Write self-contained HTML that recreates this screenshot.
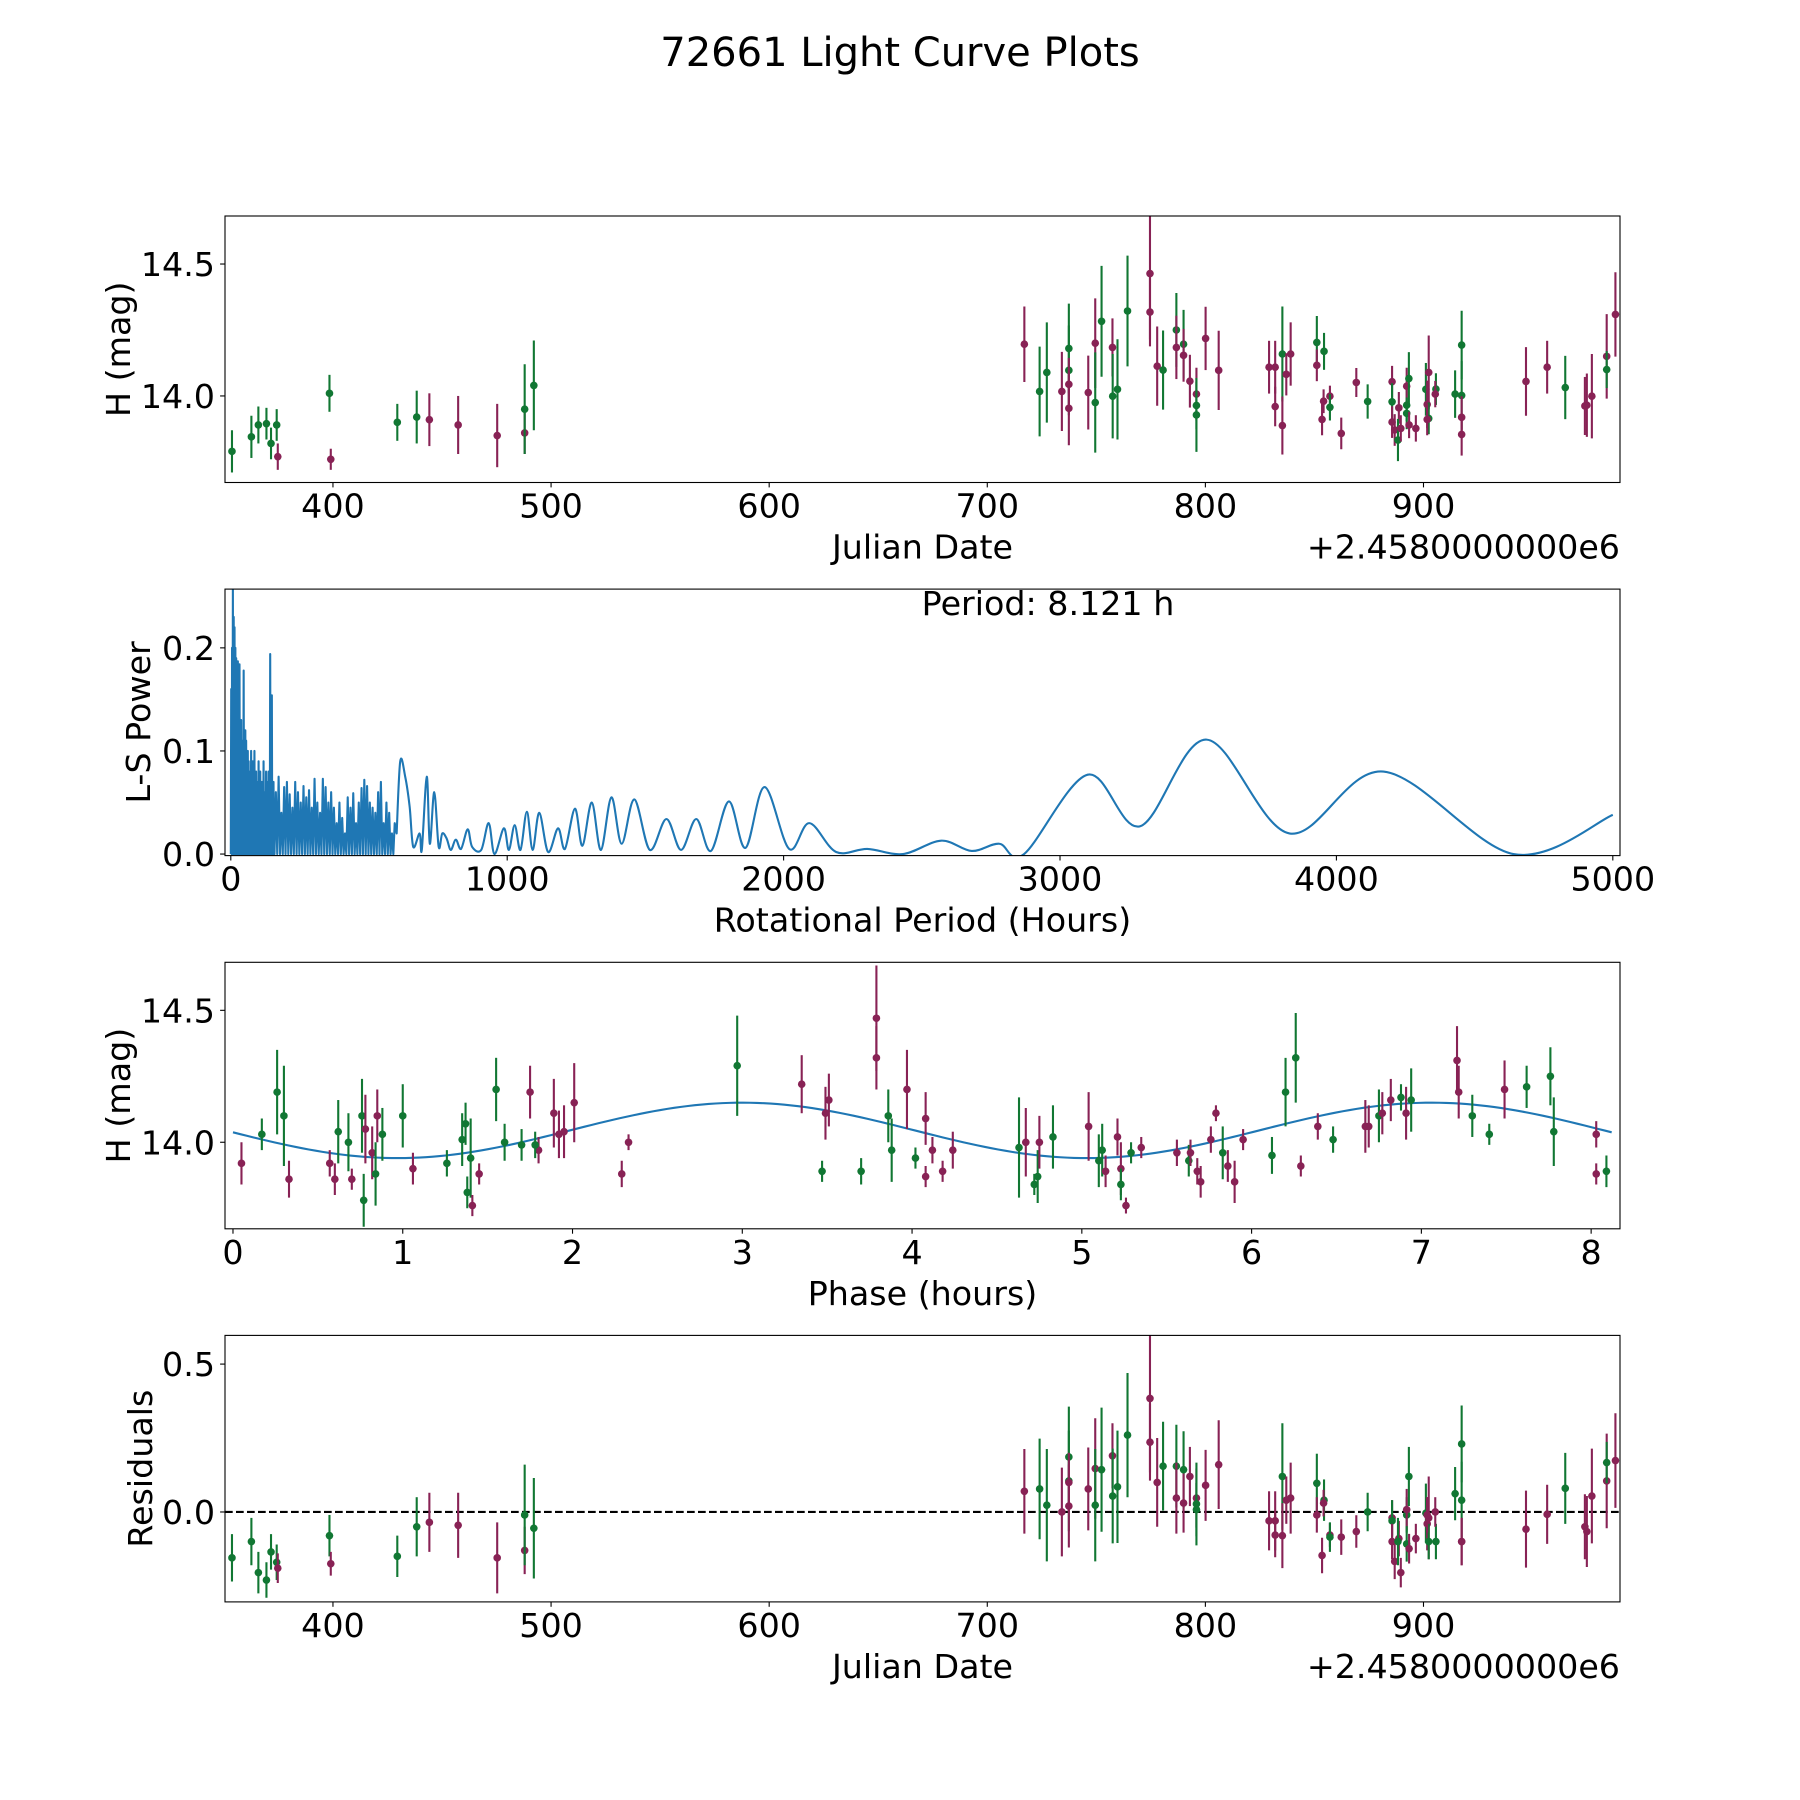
<!DOCTYPE html>
<html><head><meta charset="utf-8"><style>
html,body{margin:0;padding:0;background:#fff}
svg{display:block}
text{font-family:"DejaVu Sans","Liberation Sans",sans-serif;fill:#000}
</style></head><body>
<svg id="fig" width="1800" height="1800" viewBox="0 0 1800 1800" xmlns="http://www.w3.org/2000/svg">
<rect width="1800" height="1800" fill="#fff"/>
<text x="900" y="66" font-size="40" text-anchor="middle">72661 Light Curve Plots</text>
</svg>
<script>
// ---------- Panel 1 data: light curve ----------
const lcDates=[353.7,362.6,365.8,369.5,371.6,374.2,374.7,398.4,399,429.5,438.4,444.2,457.4,475.3,487.9,487.9,492.1,
717.0,724.0,727.3,734.2,737.4,737.4,737.4,737.4,746.3,749.5,749.5,752.4,757.4,757.5,759.7,764.3,774.6,774.6,777.9,780.6,786.7,786.7,790.0,790.0,792.9,795.9,795.9,795.9,800.1,806.1,
829.2,832.0,832.0,835.3,835.3,837.1,839.1,851.1,851.1,854.4,853.5,854.2,857.1,857.1,862.3,869.2,874.4,885.6,885.6,885.6,886.8,888.7,888.3,889.6,892.3,892.3,893.3,892.3,893.4,896.5,
901.1,901.7,902.4,902.4,901.7,905.7,905.4,914.5,917.5,917.5,917.5,917.5,947.0,956.7,965.0,974.0,974.9,977.2,984.0,984.0,988.0];
const lcMags=[13.79,13.845,13.89,13.895,13.82,13.89,13.77,14.01,13.76,13.90,13.92,13.91,13.89,13.85,13.86,13.95,14.04,
14.196,14.017,14.089,14.017,14.18,14.097,14.044,13.953,14.013,14.2,13.975,14.283,14.184,13.999,14.025,14.322,14.464,14.318,14.113,14.098,14.25,14.184,14.196,14.154,14.056,14.007,13.964,13.928,14.218,14.097,
14.109,14.109,13.96,14.159,13.888,14.082,14.159,14.203,14.116,14.169,13.911,13.98,13.999,13.957,13.858,14.051,13.979,14.054,13.978,13.901,13.871,13.955,13.833,13.877,13.965,14.037,14.066,13.934,13.89,13.877,
14.025,13.968,14.089,13.915,13.911,14.026,14.007,14.007,14.193,14.002,13.919,13.854,14.055,14.109,14.032,13.962,13.965,13.999,14.15,14.1,14.309];
const lcErrs=[0.08,0.08,0.07,0.06,0.06,0.06,0.05,0.07,0.04,0.07,0.1,0.1,0.11,0.12,0.08,0.17,0.17,
0.143,0.17,0.19,0.15,0.17,0.17,0.1,0.14,0.14,0.17,0.19,0.21,0.11,0.16,0.19,0.21,0.25,0.13,0.15,0.15,0.14,0.12,0.13,0.1,0.1,0.1,0.09,0.14,0.12,0.15,
0.1,0.1,0.075,0.18,0.11,0.08,0.12,0.1,0.06,0.07,0.06,0.045,0.04,0.05,0.06,0.055,0.065,0.06,0.07,0.06,0.06,0.06,0.08,0.05,0.06,0.07,0.1,0.06,0.05,0.05,
0.1,0.09,0.14,0.06,0.06,0.06,0.05,0.09,0.13,0.13,0.08,0.08,0.13,0.1,0.12,0.11,0.12,0.16,0.16,0.07,0.16];
const lcColors=["g","g","g","g","g","g","m","g","m","g","g","m","m","m","m","g","g",
"m","g","g","m","g","g","m","m","m","m","g","g","m","g","g","g","m","m","m","g","g","m","g","m","m","m","g","g","m","m",
"m","m","m","g","m","m","m","g","m","g","m","m","m","g","m","m","g","m","g","m","m","m","g","m","g","m","g","g","m","m",
"g","m","m","g","m","g","m","g","g","g","m","m","m","m","g","m","m","m","m","g","m"];
// ---------- Panel 4 data: residuals (same order as light curve) ----------
const residuals=[-0.155,-0.10,-0.205,-0.23,-0.135,-0.17,-0.19,-0.08,-0.175,-0.15,-0.05,-0.035,-0.045,-0.155,-0.13,-0.01,-0.055,
0.07,0.078,0.023,0.0,0.186,0.105,0.10,0.02,0.078,0.147,0.023,0.143,0.19,0.054,0.085,0.26,0.384,0.236,0.10,0.155,0.155,0.047,0.143,0.03,0.12,0.047,0.008,0.027,0.09,0.16,
-0.03,-0.03,-0.078,0.12,-0.08,0.04,0.047,0.097,-0.01,0.04,-0.147,0.03,-0.078,-0.085,-0.085,-0.066,0.0,-0.02,-0.03,-0.1,-0.167,-0.09,-0.1,-0.205,-0.01,0.008,0.12,-0.108,-0.124,-0.09,
-0.004,-0.04,-0.02,-0.1,-0.01,-0.1,0.0,0.062,0.23,0.04,-0.1,-0.1,-0.058,-0.008,0.08,-0.05,-0.066,0.054,0.105,0.167,0.174];
// ---------- Panel 3 data: phased light curve ----------
const phases=[0.05,0.17,0.26,0.30,0.33,0.57,0.60,0.62,0.68,0.70,0.76,0.77,0.78,0.82,0.84,0.85,0.88,1.00,1.06,1.26,1.35,1.37,1.38,1.40,1.41,1.45,1.55,1.60,1.75,1.70,1.80,1.78,1.89,1.92,1.95,2.01,2.29,2.33,2.97,3.35,3.47,3.49,3.51,3.70,3.79,3.79,3.86,3.88,3.97,4.02,4.08,4.08,4.12,4.18,4.24,4.63,4.67,4.72,4.74,4.75,4.83,5.04,5.10,5.12,5.14,5.21,5.23,5.23,5.26,5.29,5.35,5.56,5.63,5.64,5.68,5.70,5.76,5.79,5.83,5.86,5.90,5.95,6.12,6.20,6.26,6.29,6.39,6.48,6.67,6.69,6.75,6.77,6.82,6.88,6.91,6.94,7.21,7.22,7.30,7.40,7.49,7.62,7.76,7.78,8.03,8.03,8.09];
const phaseMags=[13.92,14.03,14.19,14.10,13.86,13.92,13.86,14.04,14.00,13.86,14.10,13.78,14.05,13.96,13.88,14.10,14.03,14.10,13.90,13.92,14.01,14.07,13.81,13.94,13.76,13.88,14.20,14.00,14.19,13.99,13.97,13.99,14.11,14.03,14.04,14.15,13.88,14.00,14.29,14.22,13.89,14.11,14.16,13.89,14.47,14.32,14.10,13.97,14.20,13.94,14.09,13.87,13.97,13.89,13.97,13.98,14.00,13.84,13.87,14.00,14.02,14.06,13.93,13.97,13.89,14.02,13.90,13.84,13.76,13.96,13.98,13.96,13.93,13.96,13.89,13.85,14.01,14.11,13.96,13.91,13.85,14.01,13.95,14.19,14.32,13.91,14.06,14.01,14.06,14.06,14.10,14.11,14.16,14.17,14.11,14.16,14.31,14.19,14.10,14.03,14.20,14.21,14.25,14.04,14.03,13.88,13.89];
const phaseErrs=[0.08,0.06,0.16,0.19,0.07,0.05,0.06,0.12,0.11,0.04,0.14,0.1,0.13,0.1,0.12,0.1,0.1,0.12,0.06,0.05,0.1,0.08,0.06,0.15,0.04,0.04,0.12,0.07,0.1,0.06,0.05,0.05,0.13,0.09,0.1,0.15,0.05,0.03,0.19,0.11,0.04,0.1,0.1,0.05,0.2,0.12,0.1,0.12,0.15,0.04,0.1,0.04,0.05,0.04,0.07,0.19,0.13,0.04,0.1,0.1,0.12,0.13,0.1,0.1,0.06,0.07,0.1,0.06,0.03,0.04,0.04,0.05,0.06,0.05,0.05,0.06,0.05,0.03,0.1,0.06,0.08,0.04,0.07,0.13,0.17,0.04,0.05,0.05,0.1,0.08,0.1,0.08,0.08,0.05,0.1,0.12,0.13,0.1,0.08,0.04,0.11,0.08,0.11,0.13,0.05,0.04,0.06];
const phaseColors=["m","g","g","g","m","m","m","g","g","m","g","g","m","m","g","m","g","g","m","g","g","g","g","g","m","m","g","g","m","g","m","g","m","m","m","m","m","m","g","m","g","m","m","g","m","m","g","g","m","g","m","m","m","m","m","g","m","g","g","m","g","m","g","g","m","m","m","g","m","g","m","m","g","m","m","m","m","m","g","m","m","m","g","g","g","m","m","g","m","m","g","m","m","g","m","g","m","m","g","g","m","g","g","g","m","m","g"];
const modelMean=14.045, modelAmp=0.105, modelPeakPhase=3.0, rotPeriod=8.121;
// ---------- Panel 2 data: periodogram ----------
const denseStart1=1.5, denseStep1=3;
const densePeaks1=[0.16,0.2,0.257,0.23,0.22,0.2,0.19,0.15,0.187,0.12,0.184,0.1,0.13,0.09,0.11,0.178,0.08,0.12,0.11,0.07,0.1,0.09,0.06,0.08,0.1,0.05,0.09,0.07,0.1,0.06,0.08,0.05,0.07,0.09,0.05,0.08,0.06,0.07,0.04,0.09,0.06,0.05,0.08,0.07,0.06,0.08,0.07,0.194,0.09,0.154,0.06,0.07,0.05];
const denseStart2=163, denseStep2=10;
const densePeaks2=[0.06,0.075,0.04,0.065,0.07,0.058,0.045,0.07,0.06,0.05,0.066,0.055,0.062,0.045,0.073,0.05,0.04,0.073,0.065,0.05,0.06,0.045,0.03,0.05,0.035,0.02,0.055,0.045,0.059,0.03,0.05,0.064,0.072,0.066,0.05,0.045,0.04,0.06,0.07,0.03,0.05,0.04,0.02,0.03];
const smoothPeriods=[600,613,631,647,660,683,691,709,720,736,752,765,781,796,814,833,857,873,906,933,954,988,1006,1027,1048,1071,1092,1116,1148,1184,1209,1245,1272,1306,1339,1377,1414,1460,1516,1576,1629,1684,1737,1802,1862,1931,2020,2093,2190,2303,2432,2570,2680,2780,2870,3100,3290,3530,3830,4170,4640,5000];
const smoothPowers=[0.02,0.09,0.075,0.046,0.007,0.02,0.004,0.075,0.01,0.06,0.007,0.02,0.015,0.004,0.014,0.005,0.024,0.007,0.004,0.03,0.0,0.025,0.004,0.028,0.004,0.041,0.004,0.04,0.002,0.025,0.005,0.044,0.008,0.05,0.004,0.055,0.01,0.053,0.004,0.034,0.004,0.034,0.003,0.051,0.006,0.065,0.005,0.03,0.002,0.005,0.0,0.013,0.003,0.01,0.0,0.077,0.027,0.111,0.02,0.08,0.0,0.038];

const NS="http://www.w3.org/2000/svg";
const fig=document.getElementById('fig');
const COL={m:"#882255",g:"#117733"};
const L=225,R=1620,H=266.5,FS=33.3;
function el(tag,attrs,parent){const e=document.createElementNS(NS,tag);for(const k in attrs)e.setAttribute(k,attrs[k]);(parent||fig).appendChild(e);return e;}
function makePanel(name,top,xmin,xmax,ymin,ymax){
  const g=el('g',{});
  
  
  const cid='clip-'+name;
  const cp=el('clipPath',{id:cid},g);el('rect',{x:L,y:top,width:R-L,height:H},cp);
  const plot=el('g',{'clip-path':'url(#'+cid+')'},g);
  
  
  return {g,plot,top,bottom:top+H,sx:v=>L+(v-xmin)/(xmax-xmin)*(R-L),sy:v=>top+H-(v-ymin)/(ymax-ymin)*H};
}
function frameAndTicks(p,xt,xl,yt,yl,xlabel,ylabel,ylabX,offset){
  const fr=el('rect',{x:L,y:p.top,width:R-L,height:H,fill:'none',stroke:'#000','stroke-width':1.1},p.g);
  
  
  xt.forEach((v,i)=>{const x=p.sx(v);
    el('line',{x1:x,x2:x,y1:p.bottom,y2:p.bottom+4.9,stroke:'#000','stroke-width':1.1},p.g);
    const t=el('text',{x:x,y:p.bottom+35,'font-size':FS,'text-anchor':'middle'},p.g);t.textContent=xl[i];
    
    });
  yt.forEach((v,i)=>{const y=p.sy(v);
    el('line',{x1:L-4.9,x2:L,y1:y,y2:y,stroke:'#000','stroke-width':1.1},p.g);
    const t=el('text',{x:L-10,y:y+12,'font-size':FS,'text-anchor':'end'},p.g);t.textContent=yl[i];
    
    });
  const xlab=el('text',{x:(L+R)/2,y:p.bottom+76,'font-size':FS,'text-anchor':'middle'},p.g);xlab.textContent=xlabel;
  
  
  const ylab=el('text',{x:0,y:0,'font-size':FS,'text-anchor':'middle',transform:'translate('+ylabX+','+(p.top+H/2)+') rotate(-90)'},p.g);ylab.textContent=ylabel;
  
  
  if(offset){const o=el('text',{x:R,y:p.bottom+76,'font-size':FS,'text-anchor':'end'},p.g);o.textContent=offset;
    
    }
}
function errPoints(p,xs,ys,es,cs){
  for(let i=0;i<xs.length;i++){
    const c=COL[cs[i]]||COL.m,x=p.sx(xs[i]),e=es[i]===undefined?0.1:es[i];
    const ln=el('line',{x1:x,x2:x,y1:p.sy(ys[i]-e),y2:p.sy(ys[i]+e),stroke:c,'stroke-width':2.1},p.plot);
    
    
    const d=el('circle',{cx:x,cy:p.sy(ys[i]),r:3.8,fill:c},p.plot);
    
    
  }
}
const tops=[216,589.1,962.3,1335.4];
// Panel 1
const p1=makePanel('light-curve-panel',tops[0],350.5,990.1,13.672,14.682);
frameAndTicks(p1,[400,500,600,700,800,900],['400','500','600','700','800','900'],[14.0,14.5],['14.0','14.5'],'Julian Date','H (mag)',130,'+2.4580000000e6');
errPoints(p1,lcDates,lcMags,lcErrs,lcColors);
// Panel 2
const p2=makePanel('periodogram-panel',tops[1],-21,5026,-0.0015,0.257);
frameAndTicks(p2,[0,1000,2000,3000,4000,5000],['0','1000','2000','3000','4000','5000'],[0,0.1,0.2],['0.0','0.1','0.2'],'Rotational Period (Hours)','L-S Power',150,null);
let pts=[];
densePeaks1.forEach((v,i)=>{const h=denseStart1+i*denseStep1;pts.push([h-denseStep1/2,0]);pts.push([h,v]);});
densePeaks2.forEach((v,i)=>{const h=denseStart2+i*denseStep2;pts.push([h-denseStep2/2,0]);pts.push([h,v]);});
let d='M'+pts.map(q=>p2.sx(q[0]).toFixed(2)+','+p2.sy(q[1]).toFixed(2)).join(' L');
const sp=smoothPeriods.map((h,i)=>[p2.sx(h),p2.sy(smoothPowers[i])]);
d+=' L'+sp[0][0].toFixed(2)+','+sp[0][1].toFixed(2);
for(let i=0;i<sp.length-1;i++){const a=sp[Math.max(0,i-1)],b=sp[i],c=sp[i+1],e=sp[Math.min(sp.length-1,i+2)];
  const c1=[b[0]+(c[0]-a[0])/6,b[1]+(c[1]-a[1])/6],c2=[c[0]-(e[0]-b[0])/6,c[1]-(e[1]-b[1])/6];
  d+=' C'+c1[0].toFixed(2)+','+c1[1].toFixed(2)+' '+c2[0].toFixed(2)+','+c2[1].toFixed(2)+' '+c[0].toFixed(2)+','+c[1].toFixed(2);}
const pl=el('path',{d:d,fill:'none',stroke:'#1f77b4','stroke-width':2.1,'stroke-linejoin':'round'},p2.plot);


const pt=el('text',{x:1048,y:615,'font-size':FS,'text-anchor':'middle'},p2.g);pt.textContent='Period: 8.121 h';


// Panel 3
const p3=makePanel('phased-curve-panel',tops[2],-0.047,8.17,13.672,14.682);
frameAndTicks(p3,[0,1,2,3,4,5,6,7,8],['0','1','2','3','4','5','6','7','8'],[14.0,14.5],['14.0','14.5'],'Phase (hours)','H (mag)',130,null);
let md='';
for(let k=0;k<=200;k++){const t=rotPeriod*k/200;const v=modelMean+modelAmp*Math.cos(2*Math.PI*2*(t-modelPeakPhase)/rotPeriod);md+=(k?' L':'M')+p3.sx(t).toFixed(2)+','+p3.sy(v).toFixed(2);}
const ml=el('path',{d:md,fill:'none',stroke:'#1f77b4','stroke-width':2.1},p3.plot);


errPoints(p3,phases,phaseMags,phaseErrs,phaseColors);
// Panel 4
const p4=makePanel('residuals-panel',tops[3],350.5,990.1,-0.304,0.597);
frameAndTicks(p4,[400,500,600,700,800,900],['400','500','600','700','800','900'],[0,0.5],['0.0','0.5'],'Julian Date','Residuals',152,'+2.4580000000e6');
const zl=el('line',{x1:L,x2:R,y1:p4.sy(0),y2:p4.sy(0),stroke:'#000','stroke-width':2.1,'stroke-dasharray':'7.7,3.3'},p4.plot);


errPoints(p4,lcDates,residuals,lcErrs,lcColors);
</script>
</body></html>
